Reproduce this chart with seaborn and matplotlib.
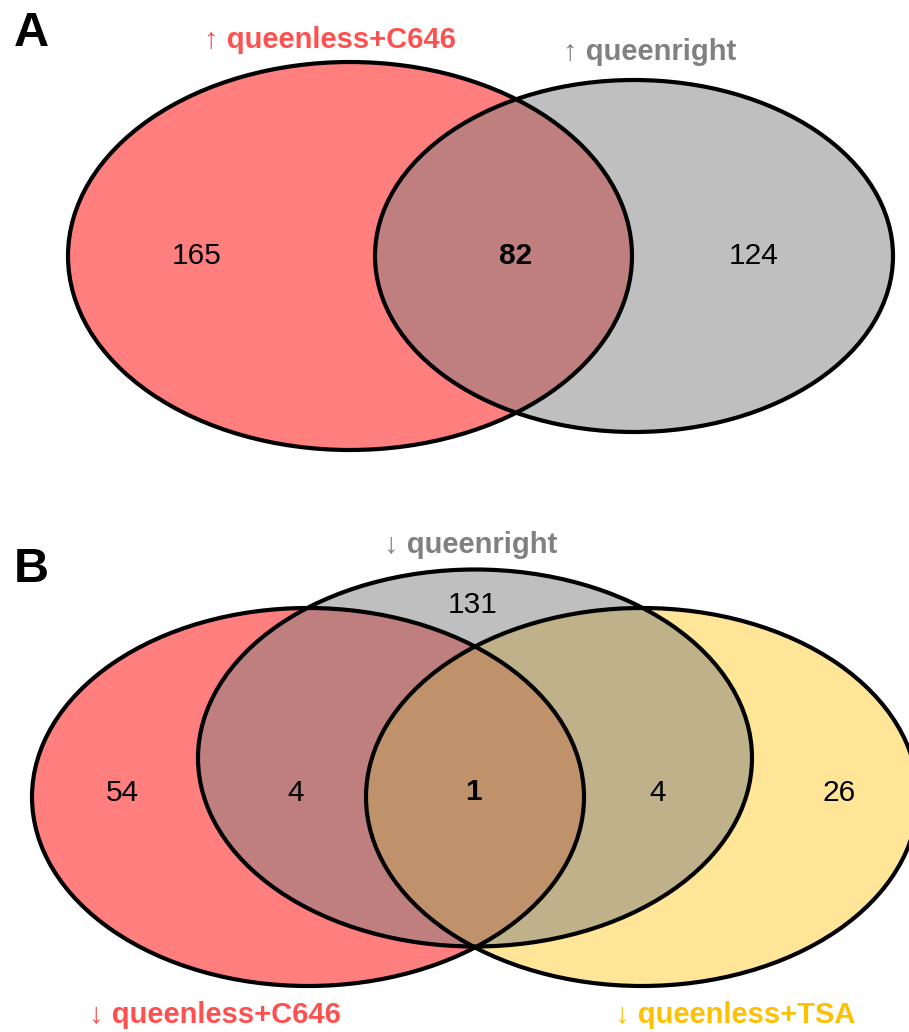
import numpy as np
import matplotlib
matplotlib.use("Agg")
import matplotlib.pyplot as plt
from matplotlib.patches import Ellipse
import seaborn as sns

# set names and counts
sets_a = ["\u2191 queenless+C646", "\u2191 queenright"]
counts_a = [165, 82, 124]          # only C646, both, only queenright

sets_b = ["\u2193 queenless+C646", "\u2193 queenright", "\u2193 queenless+TSA"]
counts_b = [54, 4, 131, 1, 4, 26]  # C646 only, C646&QR, QR only, all, QR&TSA, TSA only

red = "#FF0000"
grey = "#808080"
yellow = "#FFCC33"
label_red = "#FF5050"
label_grey = "#808080"
label_yellow = "#FFC000"

sns.set_theme(style="white")
plt.rcParams['font.family'] = ['Liberation Sans', 'DejaVu Sans']

fig = plt.figure(figsize=(9.09, 10.32), dpi=100)
ax = fig.add_axes([0, 0, 1, 1])
ax.set_xlim(0, 909)
ax.set_ylim(1032, 0)
ax.axis("off")

def venn(shapes):
    # fills first, outlines on top
    for (x, y, w, h, c) in shapes:
        ax.add_patch(Ellipse((x, y), w, h, facecolor=c, alpha=0.5, edgecolor="none"))
    for (x, y, w, h, c) in shapes:
        ax.add_patch(Ellipse((x, y), w, h, facecolor="none", edgecolor="black", lw=3))

# panel A
venn([(350, 256, 564, 388, red), (634, 256, 518, 352, grey)])
for x, v, w in zip([197, 516, 754], counts_a, ["normal", "bold", "normal"]):
    ax.text(x, 256, str(v), ha="center", va="center", fontsize=21.5, fontweight=w, color="black")
ax.text(31, 34, "A", ha="center", va="center", fontsize=35, fontweight="bold", color="black")
ax.text(330, 40, sets_a[0], ha="center", va="center", fontsize=21, fontweight="bold", color=label_red)
ax.text(650, 52, sets_a[1], ha="center", va="center", fontsize=21, fontweight="bold", color=label_grey)

# panel B
venn([(308, 797, 552, 378, red), (642, 797, 552, 378, yellow), (475, 758, 554, 377, grey)])
pos_b = [(122, 793), (296, 793), (473, 605), (473, 792), (658, 793), (839, 793)]
for i, ((x, y), v) in enumerate(zip(pos_b, counts_b)):
    ax.text(x, y, str(v), ha="center", va="center", fontsize=21.5,
            fontweight="bold" if i == 3 else "normal", color="black")
ax.text(31, 569, "B", ha="center", va="center", fontsize=35, fontweight="bold", color="black")
ax.text(215, 1015, sets_b[0], ha="center", va="center", fontsize=21, fontweight="bold", color=label_red)
ax.text(471, 545, sets_b[1], ha="center", va="center", fontsize=21, fontweight="bold", color=label_grey)
ax.text(735, 1015, sets_b[2], ha="center", va="center", fontsize=21, fontweight="bold", color=label_yellow)

fig.savefig("out.png", dpi=100)
